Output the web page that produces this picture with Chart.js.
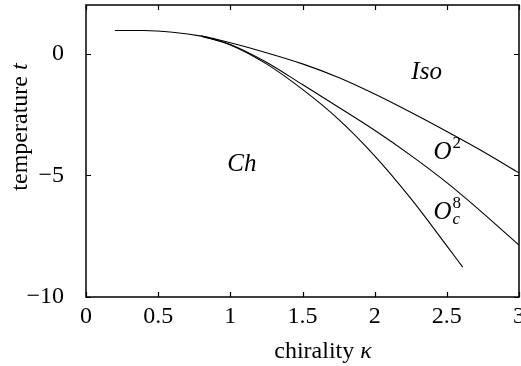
<!DOCTYPE html>
<html>
<head>
<meta charset="utf-8">
<script src="https://cdn.jsdelivr.net/npm/chart.js@4"></script>
<style>
  html, body { margin: 0; padding: 0; background: #fff; }
  #wrap { width: 521px; height: 366px; }
</style>
</head>
<body>
<div id="wrap"><canvas id="phase" width="521" height="366"></canvas></div>
<script>
// phase boundaries
const kappaIso = [0.2, 0.4, 0.6, 0.8, 1.0, 1.25, 1.5, 1.75, 2.0, 2.25, 2.5, 2.75, 3.0];
const tIso = [0.95, 0.95, 0.88, 0.72, 0.45, 0.04, -0.42, -0.98, -1.66, -2.41, -3.2, -4.02, -4.9];

const kappaO2 = [0.8, 1.0, 1.25, 1.5, 1.75, 2.0, 2.25, 2.5, 2.75, 3.0];
const tO2 = [0.72, 0.38, -0.35, -1.27, -2.2, -3.15, -4.18, -5.3, -6.55, -7.87];

const kappaO8 = [0.8, 1.0, 1.25, 1.5, 1.75, 2.0, 2.25, 2.5, 2.61];
const tO8 = [0.72, 0.36, -0.42, -1.47, -2.7, -4.2, -5.95, -7.9, -8.77];

const xTicks = [0, 0.5, 1, 1.5, 2, 2.5, 3];
const yTicks = [-10, -5, 0];

// region labels: [text, sub, sup, kappa, t]
const regionLabels = [
    ['Iso', '', '', 2.36, -0.78],
    ['Ch', '', '', 1.08, -4.55],
    ['O', '', '2', 2.47, -4.06],
    ['O', 'c', '8', 2.47, -6.52]
];

const SERIF = "'Liberation Serif', 'DejaVu Serif', serif";

const pts = (xs, ys) => xs.map((x, i) => ({ x: x, y: ys[i] }));

const lineStyle = {
    showLine: true,
    pointRadius: 0,
    borderColor: '#000',
    borderWidth: 1.1,
    cubicInterpolationMode: 'monotone',
    fill: false
};

const frame = {
    id: 'frame',
    afterDraw(chart) {
        const c = chart.ctx;
        const a = chart.chartArea;
        const xs = chart.scales.x, ys = chart.scales.y;
        c.save();
        c.strokeStyle = '#000';
        c.lineWidth = 1.5;
        c.strokeRect(a.left, a.top, a.right - a.left, a.bottom - a.top);
        c.lineWidth = 1.2;
        c.beginPath();
        xTicks.forEach(v => {
            const px = Math.round(xs.getPixelForValue(v)) + 0.5;
            c.moveTo(px, a.bottom); c.lineTo(px, a.bottom - 5);
            c.moveTo(px, a.top); c.lineTo(px, a.top + 5);
        });
        yTicks.forEach(v => {
            const py = Math.round(ys.getPixelForValue(v)) + 0.5;
            c.moveTo(a.left, py); c.lineTo(a.left + 5, py);
            c.moveTo(a.right, py); c.lineTo(a.right - 5, py);
        });
        c.stroke();

        // axis titles
        c.fillStyle = '#000';
        c.textBaseline = 'alphabetic';
        let f1 = "24px " + SERIF, f2 = "italic 24px " + SERIF;
        c.font = f1;
        let w1 = c.measureText('chirality ').width;
        c.font = f2;
        let w2 = c.measureText('κ').width;
        let x0 = 323 - (w1 + w2) / 2;
        c.font = f1; c.textAlign = 'left';
        c.fillText('chirality ', x0, 358);
        c.font = f2;
        c.fillText('κ', x0 + w1, 358);

        c.save();
        c.translate(27, 127);
        c.rotate(-Math.PI / 2);
        c.font = f1;
        w1 = c.measureText('temperature ').width;
        c.font = f2;
        w2 = c.measureText('t').width;
        x0 = -(w1 + w2) / 2;
        c.font = f1;
        c.fillText('temperature ', x0, 0);
        c.font = f2;
        c.fillText('t', x0 + w1, 0);
        c.restore();

        // region labels
        regionLabels.forEach(([txt, sub, sup, kx, ty]) => {
            const px = xs.getPixelForValue(kx), py = ys.getPixelForValue(ty);
            c.font = "italic 25px " + SERIF;
            const w = c.measureText(txt).width;
            c.textBaseline = 'middle';
            c.textAlign = 'left';
            const left = px - w / 2;
            c.fillText(txt, left, py);
            if (sup) {
                c.font = "17px " + SERIF;
                c.fillText(sup, left + w + 1, py - 9);
            }
            if (sub) {
                c.font = "italic 17px " + SERIF;
                c.fillText(sub, left + w + 1, py + 7);
            }
        });
        c.restore();
    }
};

new Chart(document.getElementById('phase'), {
    type: 'scatter',
    data: {
        datasets: [
            Object.assign({ label: 'Iso', data: pts(kappaIso, tIso) }, lineStyle),
            Object.assign({ label: 'O2', data: pts(kappaO2, tO2) }, lineStyle),
            Object.assign({ label: 'O8c', data: pts(kappaO8, tO8) }, lineStyle)
        ]
    },
    options: {
        responsive: false,
        animation: false,
        layout: { padding: { top: 5, right: 2, left: 0, bottom: 0 } },
        plugins: { legend: { display: false }, tooltip: { enabled: false } },
        scales: {
            x: {
                type: 'linear',
                min: 0, max: 3,
                afterBuildTicks: s => { s.ticks = xTicks.map(v => ({ value: v })); },
                afterFit: s => { s.height = 69; s.paddingLeft = 0; s.paddingRight = 0; },
                grid: { display: false, drawTicks: false },
                border: { display: false },
                ticks: {
                    padding: 5,
                    maxRotation: 0,
                    autoSkip: false,
                    color: '#000',
                    font: { family: SERIF, size: 24 },
                    callback: v => String(v)
                }
            },
            y: {
                type: 'linear',
                min: -10, max: 2,
                afterBuildTicks: s => { s.ticks = yTicks.map(v => ({ value: v })); },
                afterFit: s => { s.width = 86; s.paddingTop = 0; s.paddingBottom = 0; },
                grid: { display: false, drawTicks: false },
                border: { display: false },
                ticks: {
                    padding: 22,
                    autoSkip: false,
                    color: '#000',
                    font: { family: SERIF, size: 24 },
                    callback: v => String(v).replace('-', '\u2212')
                }
            }
        }
    },
    plugins: [frame]
});
</script>
</body>
</html>
